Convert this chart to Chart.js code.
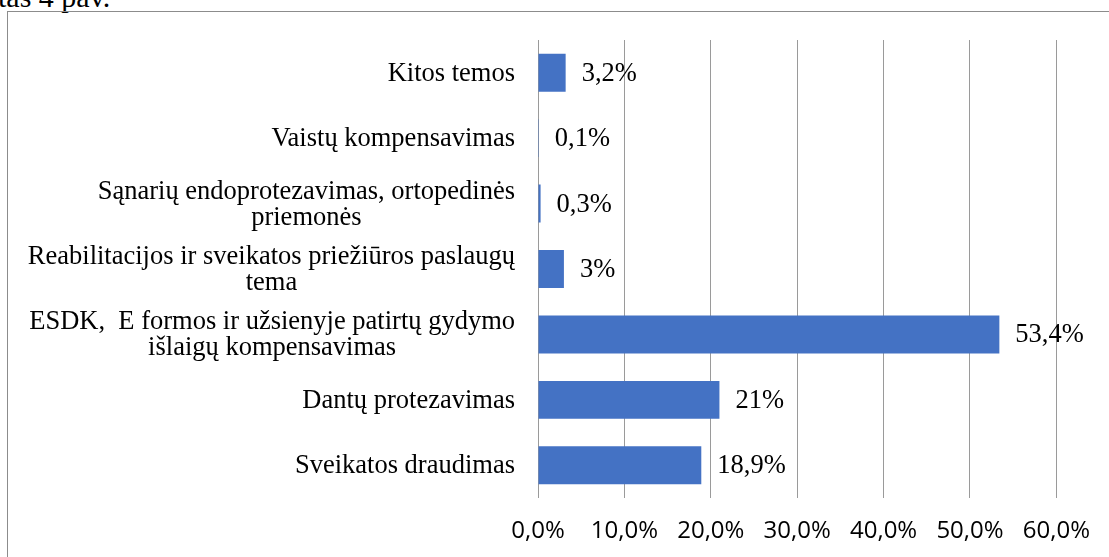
<!DOCTYPE html>
<html>
<head>
<meta charset="utf-8">
<script src="https://cdn.jsdelivr.net/npm/chart.js@4"></script>
<style>
  body { margin: 0; background: #fff; overflow: hidden; }
  #wrap { position: relative; width: 1109px; height: 557px; }
  #caption { position: absolute; left: -2px; top: -20px; font: 30px "Liberation Serif", serif; color: #000; white-space: nowrap; }
  #frame { position: absolute; left: 7px; top: 11px; width: 1200px; height: 600px; border-left: 1px solid #8c8c8c; border-top: 1px solid #8c8c8c; }
  #myChart { position: absolute; left: 0; top: 0; }
</style>
</head>
<body>
<div id="wrap">
  <div id="caption">tas 4 pav.</div>
  <div id="frame"></div>
  <canvas id="myChart" width="1109" height="557"></canvas>
</div>
<script>
// Duomenys
const categories = [
    ['Kitos temos'],
    ['Vaistų kompensavimas'],
    ['Sąnarių endoprotezavimas, ortopedinės', 'priemonės'],
    ['Reabilitacijos ir sveikatos priežiūros paslaugų', 'tema'],
    ['ESDK,  E formos ir užsienyje patirtų gydymo', 'išlaigų kompensavimas'],
    ['Dantų protezavimas'],
    ['Sveikatos draudimas']
];
const values = [3.2, 0.1, 0.3, 3, 53.4, 21, 18.9];
const valueLabels = ['3,2%', '0,1%', '0,3%', '3%', '53,4%', '21%', '18,9%'];
const xTicks = [0, 10, 20, 30, 40, 50, 60];

const serifFont = '26.5px "Liberation Serif", "Times New Roman", serif';

// Kategorijų pavadinimai: eilutės centruojamos bloke, blokas lygiuojamas dešinėje
const categoryLabels = {
    id: 'categoryLabels',
    afterDraw(chart) {
        const ctx = chart.ctx;
        const yScale = chart.scales.y;
        const right = chart.chartArea.left - 23;
        const lineHeight = 26;
        ctx.save();
        ctx.font = serifFont;
        ctx.fillStyle = '#000';
        ctx.textAlign = 'center';
        ctx.textBaseline = 'middle';
        categories.forEach((lines, i) => {
            const widest = Math.max(...lines.map(l => ctx.measureText(l).width));
            const cx = right - widest / 2;
            const cy = yScale.getPixelForValue(i) + 1 - (lines.length - 1) * lineHeight / 2;
            lines.forEach((line, j) => ctx.fillText(line, cx, cy + j * lineHeight));
        });
        ctx.restore();
    }
};

// Reikšmių etiketės prie stulpelių galo
const valueLabelsPlugin = {
    id: 'valueLabels',
    afterDatasetsDraw(chart) {
        const ctx = chart.ctx;
        const meta = chart.getDatasetMeta(0);
        ctx.save();
        ctx.font = serifFont;
        ctx.fillStyle = '#000';
        ctx.textAlign = 'left';
        ctx.textBaseline = 'middle';
        meta.data.forEach((bar, i) => {
            ctx.fillText(valueLabels[i], bar.x + 16, bar.y + 1);
        });
        ctx.restore();
    }
};

const ctx = document.getElementById('myChart').getContext('2d');
const myChart = new Chart(ctx, {
    type: 'bar',
    data: {
        labels: categories,
        datasets: [{
            data: values,
            backgroundColor: '#4472C4',
            borderWidth: 0,
            barPercentage: 0.58,
            categoryPercentage: 1
        }]
    },
    options: {
        indexAxis: 'y',
        responsive: false,
        animation: false,
        layout: { padding: { left: 538, right: 51, top: 40, bottom: 0 } },
        plugins: {
            legend: { display: false },
            tooltip: { enabled: false }
        },
        scales: {
            x: {
                min: 0,
                max: 60,
                afterBuildTicks: (scale) => { scale.ticks = xTicks.map(v => ({ value: v })); },
                afterFit: (scale) => { scale.height = 59; },
                grid: { color: '#9a9a9a', lineWidth: 1, drawTicks: false },
                border: { display: false },
                ticks: {
                    padding: 19,
                    color: '#000',
                    font: { family: '"Open Sans", sans-serif', size: 24 },
                    callback: (v) => v.toFixed(1).replace('.', ',') + '%'
                }
            },
            y: {
                afterFit: (scale) => { scale.width = 0; },
                grid: { display: false },
                border: { display: false },
                ticks: { display: false }
            }
        }
    },
    plugins: [categoryLabels, valueLabelsPlugin]
});
</script>
</body>
</html>
